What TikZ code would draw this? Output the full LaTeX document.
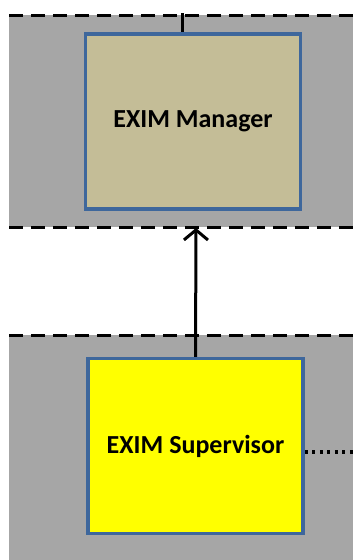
\documentclass[tikz,border=0pt]{standalone}
\usepackage{fontspec}
\setmainfont{Carlito}
\usetikzlibrary{arrows.meta,positioning}
\definecolor{lanegray}{HTML}{A6A6A6}
\definecolor{boxblue}{HTML}{3E679C}
\definecolor{mgrtan}{HTML}{C4BD97}
\definecolor{supyellow}{HTML}{FFFF00}
\tikzset{>={Straight Barb[length=10pt,width=24pt,line width=3pt]}}
\tikzset{
  lane/.style={fill=lanegray, draw=none},
  laneedge/.style={line width=3pt, dash pattern=on 14pt off 8pt},
  rolebox/.style={draw=boxblue, line width=3.5pt, minimum width=215pt, minimum height=175pt,
    font=\fontsize{26}{30}\selectfont\bfseries, text=black},
}

\begin{document}
\begin{tikzpicture}[x=1pt,y=-1pt]
\useasboundingbox (0,0) rectangle (353,560);

\fill[lane] (9,15) rectangle (353,227);
\fill[lane] (9,335) rectangle (353,560);
\draw[laneedge] (9,15)--(353,15);
\draw[laneedge] (9,227)--(353,227);
\draw[laneedge] (9,335)--(353,335);

\node[rolebox, fill=mgrtan] (mgr) at (193,121.5) {EXIM Manager};
\node[rolebox, fill=supyellow] (sup) at (195.5,446) {EXIM Supervisor};

\coordinate (up) at (182,13);
\coordinate (gate) at (196,228);
\coordinate (side) at (353,452);

\draw[line width=3pt] (up)--(up |- mgr.north);
\draw[->,line width=3pt] (sup.north)--(gate);
\draw[line width=3.5pt, dash pattern=on 3pt off 4.5pt] (side -| sup.east)--(side);

\end{tikzpicture}
\end{document}
